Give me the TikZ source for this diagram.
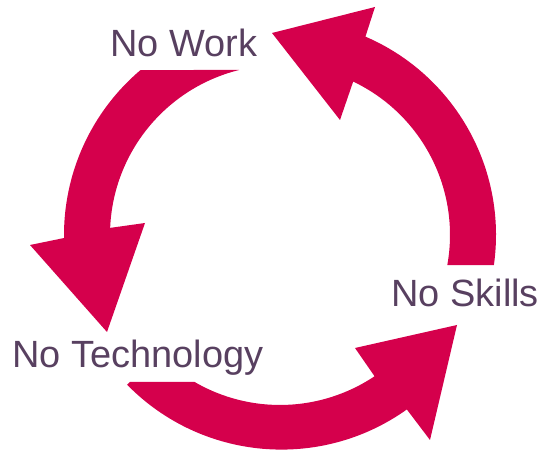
\documentclass[tikz,border=0pt]{standalone}
\usepackage{fontspec}
\setmainfont{Liberation Sans}

\definecolor{cyclered}{RGB}{213,0,76}
\definecolor{labelgray}{RGB}{88,64,96}

\tikzset{
  cyclearrow/.style={fill=cyclered, draw=none},
  steplabel/.style={anchor=base west, inner sep=0pt, text=labelgray,
    font=\fontsize{21.6}{26}\selectfont}
}

\begin{document}
\begin{tikzpicture}[x=0.02cm,y=0.02cm]
\useasboundingbox (0,0) rectangle (542,450);

\node[steplabel] (work) at (110,393) {No Work};
\node[steplabel] (skills) at (391,143) {No Skills};
\node[steplabel] (tech) at (12,82) {No Technology};

\begin{scope}[shift={(280,215)}]
  % work -> technology, down the left side
  \fill[cyclearrow] (130.2:216) arc[start angle=130.2, end angle=180.8, radius=216]
    -- (-250,-10) -- (-173,-97) -- (-135,12)
    -- (177.6:170) arc[start angle=177.6, end angle=103.9, radius=170] -- cycle;

  % technology -> skills, along the bottom
  \fill[cyclearrow] (-150,-147) -- (224.4:214) arc[start angle=224.4, end angle=305.5, radius=216]
    -- (150,-205) -- (177,-90) -- (75,-113)
    -- (303.8:170) arc[start angle=303.8, end angle=239.8, radius=170] -- cycle;

  % skills -> work, up the right side
  \fill[cyclearrow] (-8.0:216) arc[start angle=-8.0, end angle=66.7, radius=216]
    -- (95,228) -- (-8,202) -- (60,115)
    -- (64.5:170) arc[start angle=64.5, end angle=-10.2, radius=170] -- cycle;
\end{scope}
\end{tikzpicture}
\end{document}
